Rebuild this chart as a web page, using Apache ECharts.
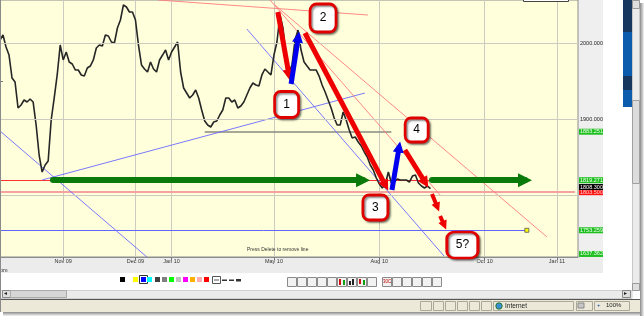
<!DOCTYPE html>
<html>
<head>
<meta charset="utf-8">
<script src="https://cdn.jsdelivr.net/npm/echarts@6/dist/echarts.min.js"></script>
<style>
  html, body { margin: 0; padding: 0; background: #fff; }
  #chart { width: 644px; height: 316px; }
</style>
</head>
<body>
<div id="chart"></div>
<script>
// x: one slot per bar group, date labels only at the month marks
const SLOTS = 193;
const xLabels = ['Nov 09', 'Dec 09', 'Jan 10', 'May 10', 'Aug 10', 'Oct 10', 'Jan 11'];
const xLabelIdx = [21, 45, 57, 91, 126, 161, 185];

const yMin = 1718;
const yMax = 2057;
const yTickLabels = [2000, 1900];
const yTicks = [2000, 1950, 1900];
const gridLevels = [2000, 1900, 1800];

const closes = [
  2004.2, 2010.8, 1995.0, 1984.4, 1954.1, 1948.8, 1914.5, 1918.5, 1925.1, 1922.5,
  1926.4, 1922.5, 1892.1, 1852.5, 1830.1, 1839.3, 1844.6, 1898.7, 1927.7, 1958.1,
  1997.6, 1977.9, 1988.4, 1975.2, 1972.6, 1964.7, 1964.7, 1958.1, 1956.7, 1967.3,
  1969.9, 1977.9, 1993.7, 1997.6, 1996.3, 2010.8, 2009.5, 2001.6, 2000.3, 2020.1,
  2030.6, 2050.4, 2047.8, 2041.2, 2041.2, 2030.6, 1997.6, 1971.3, 1966.0, 1962.0,
  1975.2, 1966.0, 1962.0, 1977.9, 1984.4, 1991.0, 1977.9, 1988.4, 1995.0, 2001.6,
  1962.0, 1940.9, 1934.3, 1927.7, 1931.7, 1938.3, 1927.7, 1911.9, 1897.4, 1892.1,
  1889.5, 1896.1, 1897.4, 1905.3, 1911.9, 1927.7, 1927.7, 1922.5, 1925.1, 1914.5,
  1917.2, 1922.5, 1931.7, 1940.9, 1947.5, 1944.9, 1943.6, 1958.1, 1966.0, 1962.0,
  1958.1, 1984.4, 2001.6, 2037.2, 2020.1, 1984.4, 1962.0, 1971.3, 2004.2, 2017.4,
  1991.0, 1975.2, 1969.9, 1964.7, 1964.7, 1964.7, 1956.7, 1944.9, 1935.6, 1925.1,
  1914.5, 1901.3, 1892.1, 1892.1, 1909.3, 1898.7, 1885.5, 1875.0, 1876.3, 1869.7,
  1864.4, 1856.5, 1849.9, 1839.3, 1832.8, 1822.2, 1814.3, 1809.0, 1814.3, 1830.1,
  1815.6, 1816.9, 1820.9, 1819.6, 1819.6, 1819.6, 1816.9, 1824.8, 1826.2, 1815.6,
  1811.6, 1809.0, 1811.6, 1808.3
];

// price levels
const lastPrice = 1808.3;
const redLevel = 1819.2718;
const pinkLevel = 1803.5;
const grayLevel = 1883.2518;
const blueLevel = 1753.2592;
const offLevel = 1637.3625;
const greenTags = [grayLevel, redLevel, blueLevel, offLevel];

// drawn lines, as [slot, price] pairs
const redSeg = [[0, redLevel], [146, redLevel]];
const pinkSeg = [[0, pinkLevel], [191, pinkLevel]];
const graySeg = [[68, grayLevel], [130, grayLevel]];
const blueSeg = [[0, blueLevel], [175, blueLevel]];
const blueTrends = [
  [[0, 1884.2], [48.8, 1718]],
  [[14.0, 1819.6], [121.2, 1934.3]],
  [[82.0, 2018.7], [147.5, 1719.3]]
];
const redTrends = [
  [[52.5, 2057], [122.2, 2037.2]],
  [[89.7, 2057], [146.2, 1799.8]],
  [[91.3, 2050.4], [181.7, 1744.4]]
];
const greenArrows = [
  [[17.6, redLevel], [120.6, redLevel]],
  [[143.5, redLevel], [174.4, redLevel]]
];
const redArrows = [
  [[92.3, 2041.2], [96.0, 1958.1]],
  [[101.3, 2013.5], [128.1, 1812.2]],
  [[134.5, 1859.1], [141.3, 1815.9]]
];
const blueArrows = [
  [[96.7, 1946.2], [99.1, 2008.3]],
  [[130.2, 1806.4], [132.6, 1863.2]]
];
const dashArrows = [
  [[143.5, 1801.1], [145.3, 1783.5]],
  [[146.2, 1772.1], [147.6, 1759.7]]
];
const noteLabels = ['1', '2', '3', '4', '5?'];
const noteAt = [[95.2, 1919.2], [107.3, 2033.3], [124.7, 1783.3], [138.4, 1885.5], [153.6, 1733.8]];

const cats = [];
for (let i = 0; i < SLOTS; i++) {
  const k = xLabelIdx.indexOf(i);
  cats.push(k >= 0 ? xLabels[k] : String(i));
}
const isMark = (i) => xLabelIdx.indexOf(i) >= 0;

const FONT = 'Liberation Sans';
const noteSizes = [[24, 26], [26, 28], [25, 25], [23, 24], [31, 26]];

function rect(x, y, w, h, fill, stroke, z) {
  return {
    type: 'rect', z: z == null ? 20 : z, silent: true,
    shape: { x: x, y: y, width: w, height: h },
    style: { fill: fill || 'none', stroke: stroke || null, lineWidth: 1 }
  };
}
function text(x, y, s, size, color, extra) {
  return {
    type: 'text', z: 30, silent: true, x: x, y: y,
    style: Object.assign({ text: s, fontSize: size, fill: color, fontFamily: FONT }, extra || {})
  };
}

const swatchColors = ['#000000', '#ffff00', '#0000ff', '#00ffff', '#404040', '#808080',
  '#00ff00', '#c0c0c0', '#ff00ff', '#ffb000', '#ffafaf', '#ff0000'];
const swatchX = [120, 133, 141, 147, 155, 162, 169, 176, 183, 190, 197, 204];

const chrome = [
  rect(578, 0, 25, 257, '#efefef', null, -5),
  rect(0, 257, 603, 16, '#ececec', null, -5),
  rect(603, 0, 20, 273, '#ffffff', null, 50),
  rect(523.5, -1, 45, 2.5, '#ffffff', '#444', 50),
  // side panel
  rect(623, 0, 9, 32, '#17375e', null, 50),
  rect(623, 32, 9, 75, '#0b5cad', null, 50),
  rect(623, 76, 9, 14, '#17375e', null, 50),
  text(624, 6, 'B', 10, '#ffffff', { fontWeight: 'bold' }),
  text(624, 49, 'A', 8, '#ffffff', { fontWeight: 'bold' }),
  text(625, 78, 'C', 8, '#ffffff', { fontWeight: 'bold' }),
  // vertical scrollbar
  rect(632.5, 0.5, 7, 290, '#ebebeb', '#c8c8c8', 50),
  rect(632.5, 0.5, 7, 8, '#dedede', '#999', 51),
  rect(632.5, 100.5, 7, 83, '#dcdcdc', '#a0a0a0', 51),
  rect(632.5, 283.5, 7, 7, '#dedede', '#999', 51),
  text(634, 1, '▴', 6, '#222', { z: 52 }),
  text(634, 283, '▾', 6, '#222', { z: 52 }),
  // toolbar
  text(0, 267, 'om', 5.5, '#333'),
  rect(139.5, 275.5, 8, 8, null, '#333', 21),
  rect(212.5, 276.5, 8, 7, '#ffffff', '#555', 21),
  rect(214, 279.5, 5, 1, '#555', null, 22),
  rect(222, 279.5, 5, 1.5, '#333', null, 21),
  rect(229, 279.5, 5, 1.5, '#333', null, 21),
  rect(236, 279, 5, 2.5, '#333', null, 21),
  // horizontal scrollbar
  rect(0, 290.5, 632, 8, '#ebebeb', '#d0d0d0', 20),
  rect(2.5, 290.5, 8, 7, '#dedede', '#888', 21),
  rect(10.5, 290.5, 56, 7, '#d6d6d6', '#aaa', 21),
  rect(622.5, 290.5, 8, 7, '#dedede', '#888', 21),
  text(4, 290, '◂', 6, '#222'),
  text(624, 290, '▸', 6, '#222'),
  // status bar
  rect(0, 299, 640, 1, '#555', null, 20),
  rect(0, 300, 640, 12, '#ece9d8', null, 20),
  text(505, 302.5, 'Internet', 6.5, '#222'),
  text(606, 302.5, '100%', 6, '#222'),
  text(597, 302.5, '+', 6, '#1a56b0'),
  { type: 'circle', z: 31, silent: true, shape: { cx: 499, cy: 306, r: 3.2 }, style: { fill: '#3a8fd8', stroke: '#2a7a2a' } },
  rect(578, 303, 6, 5, '#c8c8c8', '#888', 31),
  // frame and shadows
  rect(0, 0, 1, 312, '#8a8a8a', null, 55),
  {
    type: 'rect', z: 55, silent: true, shape: { x: 640, y: 3, width: 4, height: 313 },
    style: { fill: new echarts.graphic.LinearGradient(0, 0, 1, 0, [{ offset: 0, color: '#8a8a8a' }, { offset: 1, color: '#f4f4f4' }]) }
  },
  {
    type: 'rect', z: 55, silent: true, shape: { x: 3, y: 312, width: 637, height: 4 },
    style: { fill: new echarts.graphic.LinearGradient(0, 0, 0, 1, [{ offset: 0, color: '#8a8a8a' }, { offset: 1, color: '#f4f4f4' }]) }
  },
  text(247, 247.5, 'Press Delete to remove line', 5, '#333')
];
swatchColors.forEach((c, i) => chrome.push(rect(swatchX[i], 277, 5, 5, c, null, 22)));
const statusPanels = [[420, 432], [433, 444], [445, 456], [457, 468], [469, 480], [481, 492], [493, 574], [576, 593], [594, 630]];
statusPanels.forEach((p) => chrome.push(rect(p[0] + 0.5, 301.5, p[1] - p[0] - 1, 9, null, '#aca899', 21)));
const iconX = [287, 297, 307, 317, 327, 337, 347, 357, 367, 382, 392, 402, 412, 422, 432];
iconX.forEach((x) => chrome.push(rect(x + 0.5, 277.5, 9, 9, '#f2f2f2', '#8a8a8a', 21)));
chrome.push(rect(339, 279, 2, 6, '#d01010', null, 22), rect(343, 280, 2, 5, '#10a010', null, 22));
chrome.push(rect(349, 281, 2, 4, '#222', null, 22), rect(352, 279, 2, 6, '#222', null, 22));
chrome.push(rect(359, 279, 2, 5, '#d01010', null, 22), rect(363, 280, 2, 5, '#10a010', null, 22));
chrome.push(text(383, 279, '30C', 4.5, '#c00000'));

function segs(list, color, width) {
  return list.map((c) => ({ coords: c, lineStyle: { color: color, width: width, opacity: 1 } }));
}

const option = {
  animation: false,
  textStyle: { fontFamily: FONT },
  grid: {
    left: 0, top: 0, width: 578, height: 257,
    show: true, backgroundColor: '#ffffdc', borderColor: '#8c8c8c', borderWidth: 1
  },
  xAxis: [
    {
      type: 'category', data: cats, boundaryGap: false,
      axisLine: { lineStyle: { color: '#8c8c8c' } },
      axisTick: { show: true, interval: isMark, length: 3, lineStyle: { color: '#777' } },
      axisLabel: { interval: isMark, fontSize: 5.5, color: '#333', margin: 1 },
      splitLine: { show: true, interval: isMark, lineStyle: { color: '#cbcbbf', width: 1 } }
    },
    { type: 'value', min: 0, max: SLOTS - 1, show: false }
  ],
  yAxis: {
    type: 'value', position: 'right', min: yMin, max: yMax,
    axisLine: { show: true, lineStyle: { color: '#8c8c8c' } },
    axisTick: { show: true, customValues: yTicks, length: 3, lineStyle: { color: '#777' } },
    axisLabel: {
      customValues: yTickLabels, formatter: (v) => v.toFixed(4),
      fontSize: 5.5, color: '#222', margin: 2, align: 'left'
    },
    splitLine: { show: false }
  },
  graphic: chrome,
  series: [
    {
      name: 'grid', type: 'line', data: [], z: 1,
      markLine: {
        silent: true, symbol: 'none', label: { show: false },
        lineStyle: { color: '#cbcbbf', width: 1, type: 'solid' },
        data: gridLevels.map((v) => ({ yAxis: v }))
      }
    },
    {
      name: 'levels', type: 'lines', coordinateSystem: 'cartesian2d', xAxisIndex: 1, z: 2,
      symbol: 'none', silent: true, lineStyle: { opacity: 1 },
      data: [
        { coords: pinkSeg, lineStyle: { color: '#f4a2a2', width: 2, opacity: 1 } },
        { coords: redSeg, lineStyle: { color: '#ff3030', width: 1, opacity: 1 } },
        { coords: graySeg, lineStyle: { color: '#8a8a80', width: 1.5, opacity: 1 } },
        { coords: blueSeg, lineStyle: { color: '#6464ff', width: 1, opacity: 1 } }
      ]
    },
    {
      name: 'trends', type: 'lines', coordinateSystem: 'cartesian2d', xAxisIndex: 1, z: 2,
      symbol: 'none', silent: true, lineStyle: { opacity: 1 },
      data: segs(blueTrends, '#6a6aff', 0.9).concat(segs(redTrends, '#ff7a7a', 0.9))
    },
    {
      name: 'price', type: 'line', data: closes, z: 3,
      showSymbol: false, silent: true,
      lineStyle: { color: '#262626', width: 1.6 }
    },
    {
      name: 'green arrows', type: 'lines', coordinateSystem: 'cartesian2d', xAxisIndex: 1, z: 5,
      symbol: ['none', 'triangle'], symbolSize: 14, silent: true,
      lineStyle: { color: '#0a7a0a', width: 6, cap: 'round', opacity: 1 },
      data: greenArrows.map((c) => ({ coords: c }))
    },
    {
      name: 'red arrows', type: 'lines', coordinateSystem: 'cartesian2d', xAxisIndex: 1, z: 5,
      symbol: ['none', 'triangle'], symbolSize: 11, silent: true,
      lineStyle: { color: '#ee0000', width: 5, opacity: 1 },
      data: redArrows.map((c) => ({ coords: c }))
    },
    {
      name: 'blue arrows', type: 'lines', coordinateSystem: 'cartesian2d', xAxisIndex: 1, z: 5,
      symbol: ['none', 'triangle'], symbolSize: 11, silent: true,
      lineStyle: { color: '#0000ee', width: 5, opacity: 1 },
      data: blueArrows.map((c) => ({ coords: c }))
    },
    {
      name: 'dash arrows', type: 'lines', coordinateSystem: 'cartesian2d', xAxisIndex: 1, z: 5,
      symbol: ['none', 'triangle'], symbolSize: 9, silent: true,
      lineStyle: { color: '#ee0000', width: 4, opacity: 1 },
      data: dashArrows.map((c) => ({ coords: c }))
    },
    {
      name: 'handle', type: 'scatter', xAxisIndex: 1, z: 5, silent: true,
      symbol: 'rect', symbolSize: 4,
      itemStyle: { color: '#ffff00', borderColor: '#555', borderWidth: 0.8, opacity: 1 },
      data: [blueSeg[1]]
    },
    {
      name: 'notes', type: 'scatter', xAxisIndex: 1, z: 6, silent: true,
      symbol: 'roundRect',
      itemStyle: {
        color: '#ffffff', borderColor: '#e00000', borderWidth: 2.8, opacity: 1,
        shadowBlur: 2, shadowColor: 'rgba(0,0,0,0.45)', shadowOffsetX: 1.5, shadowOffsetY: 1.5
      },
      label: { show: true, position: 'inside', formatter: '{b}', fontSize: 12, color: '#000' },
      data: noteAt.map((p, i) => ({ name: noteLabels[i], value: p, symbolSize: noteSizes[i] }))
    },
    {
      name: 'tags', type: 'line', data: [], z: 8,
      markLine: {
        silent: true, symbol: 'none',
        lineStyle: { color: 'rgba(0,0,0,0)', width: 0 },
        label: {
          show: true, position: 'end', distance: 1, formatter: '{b}',
          fontSize: 5.5, lineHeight: 6, padding: [0, 1, 0, 1],
          color: '#f2fff2', backgroundColor: '#1fbf1f'
        },
        data: greenTags.map((v) => ({ name: v.toFixed(4), yAxis: Math.max(v, yMin + 4) }))
          .concat([
            { name: pinkLevel.toFixed(4), yAxis: pinkLevel, label: { backgroundColor: '#ff1010', color: '#ffd0d0' } },
            { name: lastPrice.toFixed(4), yAxis: lastPrice, label: { backgroundColor: '#000000', color: '#ffffff', offset: [0, -1.5] } }
          ])
      }
    }
  ]
};

const chart = echarts.init(document.getElementById('chart'));
chart.setOption(option);
</script>
</body>
</html>
